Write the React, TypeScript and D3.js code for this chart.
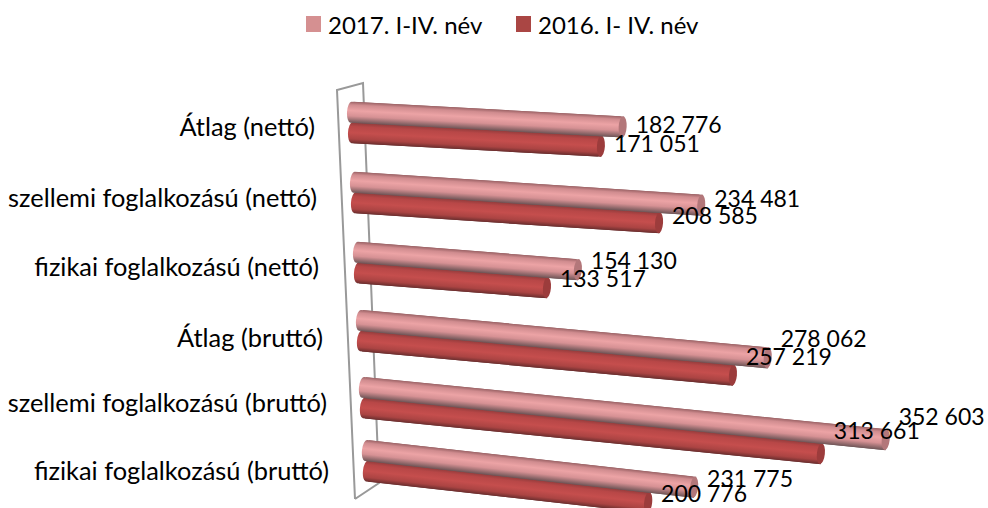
import React from "react";
import * as d3 from "d3";

const categories = [
  "Átlag (nettó)",
  "szellemi foglalkozású (nettó)",
  "fizikai foglalkozású (nettó)",
  "Átlag (bruttó)",
  "szellemi foglalkozású (bruttó)",
  "fizikai foglalkozású (bruttó)",
];
const values2017 = [182776, 234481, 154130, 278062, 352603, 231775];
const values2016 = [171051, 208585, 133517, 257219, 313661, 200776];
const seriesNames = ["2017. I-IV. név", "2016. I- IV. név"];

// fake 3d: every row has its own slope, stretch and position
const slopes = [0.054, 0.066, 0.079, 0.092, 0.1, 0.112];
const stretch2017 = [1.53, 1.515, 1.485, 1.495, 1.505, 1.45];
const stretch2016 = [1.502, 1.496, 1.475, 1.477, 1.482, 1.44];
const rowCenters = [112, 182, 252, 320, 387, 450];
const labelCenters = [127, 198, 267, 338, 403, 471];
const labelLift = [2.5, 6.9, 9, 19, 23, 9];
const labelRight = [315, 317, 319, 323, 327, 329];

const width = 988;
const height = 508;
const thickness = 21;
const font = "Lato, 'Noto Sans', sans-serif";

const rowX = d3.scalePoint<string>().domain(categories).range([347, 362]);

function lengthScale(k: number) {
  return d3.scaleLinear().domain([0, 400000]).range([0, 400 * k]);
}

const fmt = (v: number) => d3.format(",")(v).replace(",", " ");

function Cylinder({ x, y, len, slope, fill, cap }: any) {
  const angle = (Math.atan(slope) * 180) / Math.PI;
  const l = len / Math.cos(Math.atan(slope));
  const r = thickness / 2;
  return (
    <g transform={`translate(${x},${y}) rotate(${angle})`}>
      <rect x={0} y={-r} width={l - 3} height={thickness} rx={4} ry={r} fill={`url(#${fill})`} />
      <rect x={6} y={-r} width={l - 9} height={thickness} fill={`url(#${fill})`} />
      <ellipse cx={l - 4} cy={0} rx={4} ry={r} fill={cap} />
    </g>
  );
}

export default function App() {
  return (
    <svg
      width={width}
      height={height}
      style={{ position: "absolute", left: 0, top: 0, background: "#fff" }}
    >
      <defs>
        <linearGradient id="grad2017" x1="0" y1="0" x2="0" y2="1">
          <stop offset="0" stopColor="#9c6366" />
          <stop offset="0.15" stopColor="#d08c8f" />
          <stop offset="0.42" stopColor="#eca3a5" />
          <stop offset="0.68" stopColor="#d69194" />
          <stop offset="1" stopColor="#6f5557" />
        </linearGradient>
        <linearGradient id="grad2016" x1="0" y1="0" x2="0" y2="1">
          <stop offset="0" stopColor="#8e3b3b" />
          <stop offset="0.2" stopColor="#b84747" />
          <stop offset="0.5" stopColor="#c54e4d" />
          <stop offset="0.8" stopColor="#ab4443" />
          <stop offset="1" stopColor="#6b2e2e" />
        </linearGradient>
      </defs>

      {/* wall */}
      <path
        d="M355,499 L337,90 L363,83 L379,483 L355,499"
        fill="none"
        stroke="#999"
        strokeWidth={2}
      />

      {categories.map((c, i) => {
        const x0 = rowX(c) as number;
        const y0 = rowCenters[i];
        return (
          <g key={c}>
            <Cylinder
              x={x0 + 1}
              y={y0 + 20.5}
              len={lengthScale(stretch2016[i])(values2016[i])}
              slope={slopes[i]}
              fill="grad2016"
              cap="#9c3c3c"
            />
            <Cylinder
              x={x0}
              y={y0}
              len={lengthScale(stretch2017[i])(values2017[i])}
              slope={slopes[i]}
              fill="grad2017"
              cap="#b3777a"
            />
          </g>
        );
      })}

      <g fontFamily={font} fill="#000">
        <g fontSize={25.4}>
          {categories.map((c, i) => (
            <text key={c} x={labelRight[i]} y={labelCenters[i]} dy="0.35em" textAnchor="end">
              {c}
            </text>
          ))}
        </g>
        <g fontSize={23}>
          {categories.map((c, i) => {
            const x0 = rowX(c) as number;
            const y0 = rowCenters[i];
            const len17 = lengthScale(stretch2017[i])(values2017[i]);
            const len16 = lengthScale(stretch2016[i])(values2016[i]);
            return (
              <g key={c}>
                <text
                  x={x0 + len17 + 9}
                  y={y0 + len17 * slopes[i] - labelLift[i]}
                  dy="0.35em"
                >
                  {fmt(values2017[i])}
                </text>
                <text
                  x={x0 + 1 + len16 + 9}
                  y={y0 + 20.5 + len16 * slopes[i] - labelLift[i]}
                  dy="0.35em"
                >
                  {fmt(values2016[i])}
                </text>
              </g>
            );
          })}
        </g>

        {/* legend */}
        <g fontSize={24}>
          <rect x={306} y={16} width={15} height={16} fill="#d59091" />
          <text x={328} y={26} dy="0.35em">
            {seriesNames[0]}
          </text>
          <rect x={516} y={16} width={15} height={16} fill="#aa4644" />
          <text x={538} y={26} dy="0.35em">
            {seriesNames[1]}
          </text>
        </g>
      </g>
    </svg>
  );
}
